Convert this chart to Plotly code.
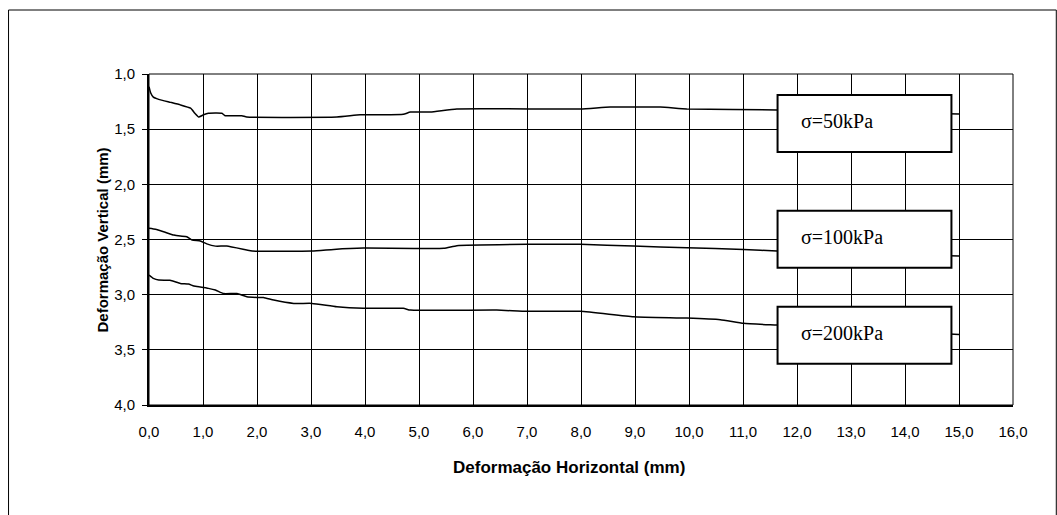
import plotly.graph_objects as go

# ---- data ----
x_50 = [0.0, 0.03, 0.08, 0.18, 0.40, 0.58, 0.77, 0.85, 0.92, 1.01, 1.10, 1.35, 1.41, 1.72, 1.81,
        3.48, 3.91, 4.28, 4.71, 4.84, 5.21, 5.70, 7.99, 8.54, 9.47, 9.96, 11.63, 15.0]
y_50 = [1.115, 1.17, 1.21, 1.23, 1.257, 1.28, 1.31, 1.356, 1.39, 1.37, 1.356, 1.356, 1.378, 1.378, 1.39,
        1.39, 1.37, 1.37, 1.365, 1.345, 1.345, 1.317, 1.317, 1.30, 1.30, 1.317, 1.326, 1.363]

x_100 = [0.0, 0.12, 0.27, 0.46, 0.58, 0.70, 0.80, 0.95, 1.07, 1.23, 1.44, 1.81, 1.91, 3.02, 3.42,
         3.97, 5.46, 5.70, 7.0, 7.99, 8.97, 9.96, 11.01, 11.63, 15.0]
y_100 = [2.399, 2.408, 2.43, 2.46, 2.469, 2.475, 2.505, 2.514, 2.54, 2.56, 2.56, 2.596, 2.605, 2.605, 2.59,
         2.578, 2.58, 2.556, 2.544, 2.544, 2.56, 2.575, 2.59, 2.605, 2.65]

x_200 = [0.0, 0.08, 0.18, 0.39, 0.58, 0.73, 0.83, 0.95, 1.10, 1.23, 1.38, 1.63, 1.81, 2.0, 2.12, 2.31,
         2.68, 3.02, 3.48, 3.97, 4.71, 4.84, 6.44, 7.0, 7.99, 8.97, 9.96, 10.58, 11.01, 11.63, 15.0]
y_200 = [2.822, 2.852, 2.868, 2.87, 2.898, 2.904, 2.922, 2.931, 2.943, 2.958, 2.99, 2.99, 3.019, 3.025, 3.025, 3.049,
         3.079, 3.079, 3.11, 3.124, 3.124, 3.14, 3.14, 3.151, 3.151, 3.2, 3.212, 3.227, 3.26, 3.276, 3.36]

series_labels = ["σ=50kPa", "σ=100kPa", "σ=200kPa"]
x_ticks = [i for i in range(0, 17)]
y_ticks = [1.0, 1.5, 2.0, 2.5, 3.0, 3.5, 4.0]
x_title = "Deformação Horizontal (mm)"
y_title = "Deformação Vertical (mm)"

# ---- figure ----
fig = go.Figure()
for xs, ys, name in [(x_50, y_50, series_labels[0]), (x_100, y_100, series_labels[1]), (x_200, y_200, series_labels[2])]:
    fig.add_trace(go.Scatter(x=xs, y=ys, mode="lines", name=name,
                             line=dict(color="black", width=1.5, shape="spline", smoothing=0.4),
                             showlegend=False, hoverinfo="skip"))

# label boxes (white, covering the curves) with their texts
boxes = [(1.19, 1.707), (2.239, 2.756), (3.11, 3.627)]
for (y0, y1), label in zip(boxes, series_labels):
    fig.add_shape(type="rect", xref="x", yref="y", x0=11.64, x1=14.86, y0=y0, y1=y1,
                  fillcolor="white", line=dict(color="black", width=2), layer="above")
    fig.add_annotation(xref="x", yref="y", x=12.03, y=(y0 + y1) / 2 - 0.02, text=label,
                       showarrow=False, xanchor="left", yanchor="middle",
                       font=dict(family="Liberation Serif, Times New Roman, serif", size=20, color="black"))

# plot area top/right edges
fig.add_shape(type="rect", xref="x domain", yref="y domain", x0=0, x1=1, y0=0, y1=1,
              line=dict(color="black", width=1), layer="above")

# outer chart frame
fig.add_shape(type="rect", xref="paper", yref="paper",
              x0=(8 - 148.5) / 864.2, x1=(1056 - 148.5) / 864.2,
              y0=(405 - 540) / 331, y1=(405 - 10) / 331,
              line=dict(color="black", width=1), layer="below")

# axis titles
fig.add_annotation(xref="paper", yref="paper", x=(569 - 148.5) / 864.2, y=(405 - 467) / 331,
                   text=f"<b>{x_title}</b>", showarrow=False, xanchor="center", yanchor="middle",
                   font=dict(family="Liberation Sans, Arial, sans-serif", size=17, color="black"))
fig.add_annotation(xref="paper", yref="paper", x=(101 - 148.5) / 864.2, y=(405 - 240) / 331,
                   text=f"<b>{y_title}</b>", showarrow=False, textangle=-90,
                   xanchor="center", yanchor="middle",
                   font=dict(family="Liberation Sans, Arial, sans-serif", size=15, color="black"))

fig.update_xaxes(range=[0, 16], tickvals=x_ticks, tickformat=".1f",
                 showgrid=True, gridcolor="black", gridwidth=1,
                 showline=True, linecolor="black", linewidth=2,
                 ticks="", ticklabelstandoff=12, zeroline=False,
                 tickfont=dict(family="Liberation Sans, Arial, sans-serif", size=15, color="black"))
fig.update_yaxes(range=[4.0, 1.0], tickvals=y_ticks, tickformat=".1f",
                 showgrid=True, gridcolor="black", gridwidth=1,
                 showline=True, linecolor="black", linewidth=2,
                 ticks="outside", ticklen=5, tickcolor="black", tickwidth=1,
                 ticklabelstandoff=4, zeroline=False,
                 tickfont=dict(family="Liberation Sans, Arial, sans-serif", size=15, color="black"))

fig.update_layout(width=1057, height=515, separators=",.",
                  margin=dict(l=148.5, r=1057 - 1012.7, t=74, b=110),
                  paper_bgcolor="white", plot_bgcolor="white")

fig.write_html("out.html")
